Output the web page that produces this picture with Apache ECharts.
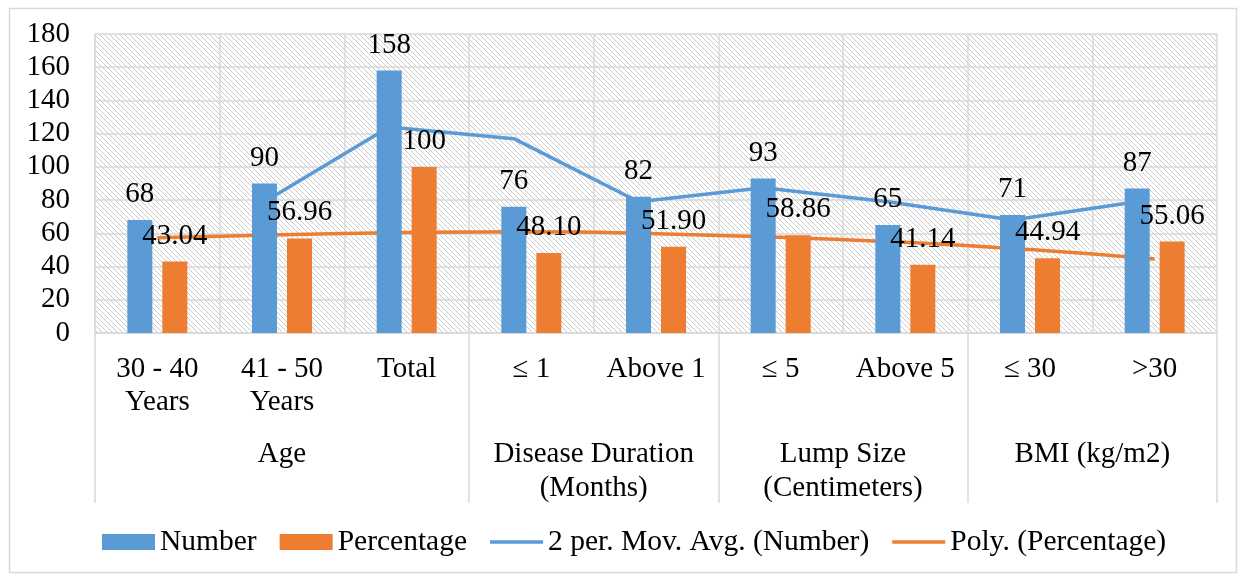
<!DOCTYPE html>
<html>
<head>
<meta charset="utf-8">
<script src="https://cdn.jsdelivr.net/npm/echarts@6/dist/echarts.min.js"></script>
<style>
html,body{margin:0;padding:0;background:#fff;}
#chart{width:1241px;height:576px;}
</style>
</head>
<body>
<div id="chart"></div>
<script>
// ---- data ----
var categories = ['30 - 40\nYears', '41 - 50\nYears', 'Total', '\u2264 1', 'Above 1', '\u2264 5', 'Above 5', '\u2264 30', '>30'];
var numberValues = [68, 90, 158, 76, 82, 93, 65, 71, 87];
var percentageValues = [43.04, 56.96, 100, 48.10, 51.90, 58.86, 41.14, 44.94, 55.06];
var movAvgNumber = [null, 79, 124, 117, 79, 87.5, 79, 68, 79];
var polyPercentage = [57.4, 59.2, 60.5, 61.0, 59.8, 57.6, 54.6, 50.2, 44.5];
var groupNames = ['Age', 'Disease Duration\n(Months)', 'Lump Size\n(Centimeters)', 'BMI (kg/m2)'];
var groupBounds = [0, 3, 5, 7, 9];
var yTicks = { min: 0, max: 180, interval: 20 };
var seriesNames = ['Number', 'Percentage', '2 per. Mov. Avg. (Number)', 'Poly. (Percentage)'];

var groupMids = [];
for (var i = 0; i < groupNames.length; i++) groupMids.push((groupBounds[i] + groupBounds[i + 1]) / 2);

// hatch pattern
function makeHatch() {
  var n = 5;
  var c = document.createElement('canvas');
  c.width = n; c.height = n;
  var ctx = c.getContext('2d');
  ctx.fillStyle = '#ffffff';
  ctx.fillRect(0, 0, n, n);
  ctx.fillStyle = '#cacaca';
  for (var y = 0; y < n; y++) for (var x = 0; x < n; x++) {
    if (((x - y) % n + n) % n === 0) ctx.fillRect(x, y, 1, 1);
  }
  return c;
}

var FONT = 'Liberation Serif';
var BLUE = '#5B9BD5', ORANGE = '#ED7D31', GRID = '#d9d9d9';
var shift = 17.5;
var LINE_ICON = 'path://M0,0 L53,0 L53,3.5 L0,3.5 Z';

var chart = echarts.init(document.getElementById('chart'));
function fmt(v) { return Number.isInteger(v) ? String(v) : v.toFixed(2); }

var option = {
  backgroundColor: '#fff',
  animation: false,
  textStyle: { fontFamily: FONT },
  graphic: [{
    type: 'rect', left: 7, top: 6, shape: { width: 1227, height: 564 },
    style: { fill: 'none', stroke: GRID, lineWidth: 1.5 }, silent: true, z: -10
  }],
  grid: [
    { left: 95, right: 24, top: 34, bottom: 243, show: true, borderWidth: 0,
      backgroundColor: { image: makeHatch(), repeat: 'repeat' } },
    { left: 95 - shift, right: 24 + shift, top: 34, bottom: 243, show: false }
  ],
  legend: {
    bottom: 14, left: 97, itemGap: 23, itemWidth: 53, itemHeight: 16,
    textStyle: { fontFamily: FONT, fontSize: 29.5, color: '#000' },
    data: [
      { name: seriesNames[0], icon: 'rect' },
      { name: seriesNames[1], icon: 'rect' },
      { name: seriesNames[2], icon: LINE_ICON },
      { name: seriesNames[3], icon: LINE_ICON }
    ]
  },
  xAxis: [
    { type: 'category', gridIndex: 0, data: categories, boundaryGap: true,
      axisLine: { show: true, lineStyle: { color: GRID, width: 1.5 } },
      axisTick: { show: false },
      splitLine: { show: true, lineStyle: { color: GRID, width: 1.5 } },
      axisLabel: { interval: 0, fontFamily: FONT, fontSize: 29, lineHeight: 33, margin: 20, color: '#000' } },
    { type: 'value', gridIndex: 0, min: 0, max: 9, position: 'bottom',
      axisLine: { show: false }, splitLine: { show: false },
      axisTick: { show: true, customValues: groupBounds, length: 170, lineStyle: { color: GRID, width: 1.5 } },
      axisLabel: { customValues: groupMids, fontFamily: FONT, fontSize: 29, lineHeight: 34, margin: 104, color: '#000',
        formatter: function (v) { var k = groupMids.indexOf(v); return k >= 0 ? groupNames[k] : ''; } } },
    { type: 'category', gridIndex: 1, data: categories, boundaryGap: true, show: false }
  ],
  yAxis: [
    { type: 'value', gridIndex: 0, min: yTicks.min, max: yTicks.max, interval: yTicks.interval,
      axisLine: { show: true, lineStyle: { color: GRID, width: 1.5 } },
      axisTick: { show: false },
      splitLine: { show: true, lineStyle: { color: GRID, width: 1.5 } },
      axisLabel: { fontFamily: FONT, fontSize: 29, margin: 25, color: '#000' } },
    { type: 'value', gridIndex: 1, min: yTicks.min, max: yTicks.max, interval: yTicks.interval, show: false }
  ],
  series: [
    { name: seriesNames[0], type: 'bar', xAxisIndex: 0, yAxisIndex: 0, data: numberValues,
      barWidth: 25, barGap: '40%', itemStyle: { color: BLUE }, z: 3,
      label: { show: true, position: 'top', distance: 11, fontFamily: FONT, fontSize: 29, color: '#000',
        formatter: function (p) { return fmt(p.value); } } },
    { name: seriesNames[1], type: 'bar', xAxisIndex: 0, yAxisIndex: 0, data: percentageValues,
      barWidth: 25, barGap: '40%', itemStyle: { color: ORANGE }, z: 3,
      label: { show: true, position: 'top', distance: 11, fontFamily: FONT, fontSize: 29, color: '#000',
        formatter: function (p) { return fmt(p.value); } } },
    { name: seriesNames[2], type: 'line', xAxisIndex: 2, yAxisIndex: 1, data: movAvgNumber,
      symbol: 'none', lineStyle: { color: BLUE, width: 3.5 }, itemStyle: { color: BLUE }, z: 2 },
    { name: seriesNames[3], type: 'line', xAxisIndex: 0, yAxisIndex: 0, data: polyPercentage,
      symbol: 'none', smooth: true, lineStyle: { color: ORANGE, width: 3.5 }, itemStyle: { color: ORANGE }, z: 2 }
  ]
};
chart.setOption(option);
</script>
</body>
</html>
